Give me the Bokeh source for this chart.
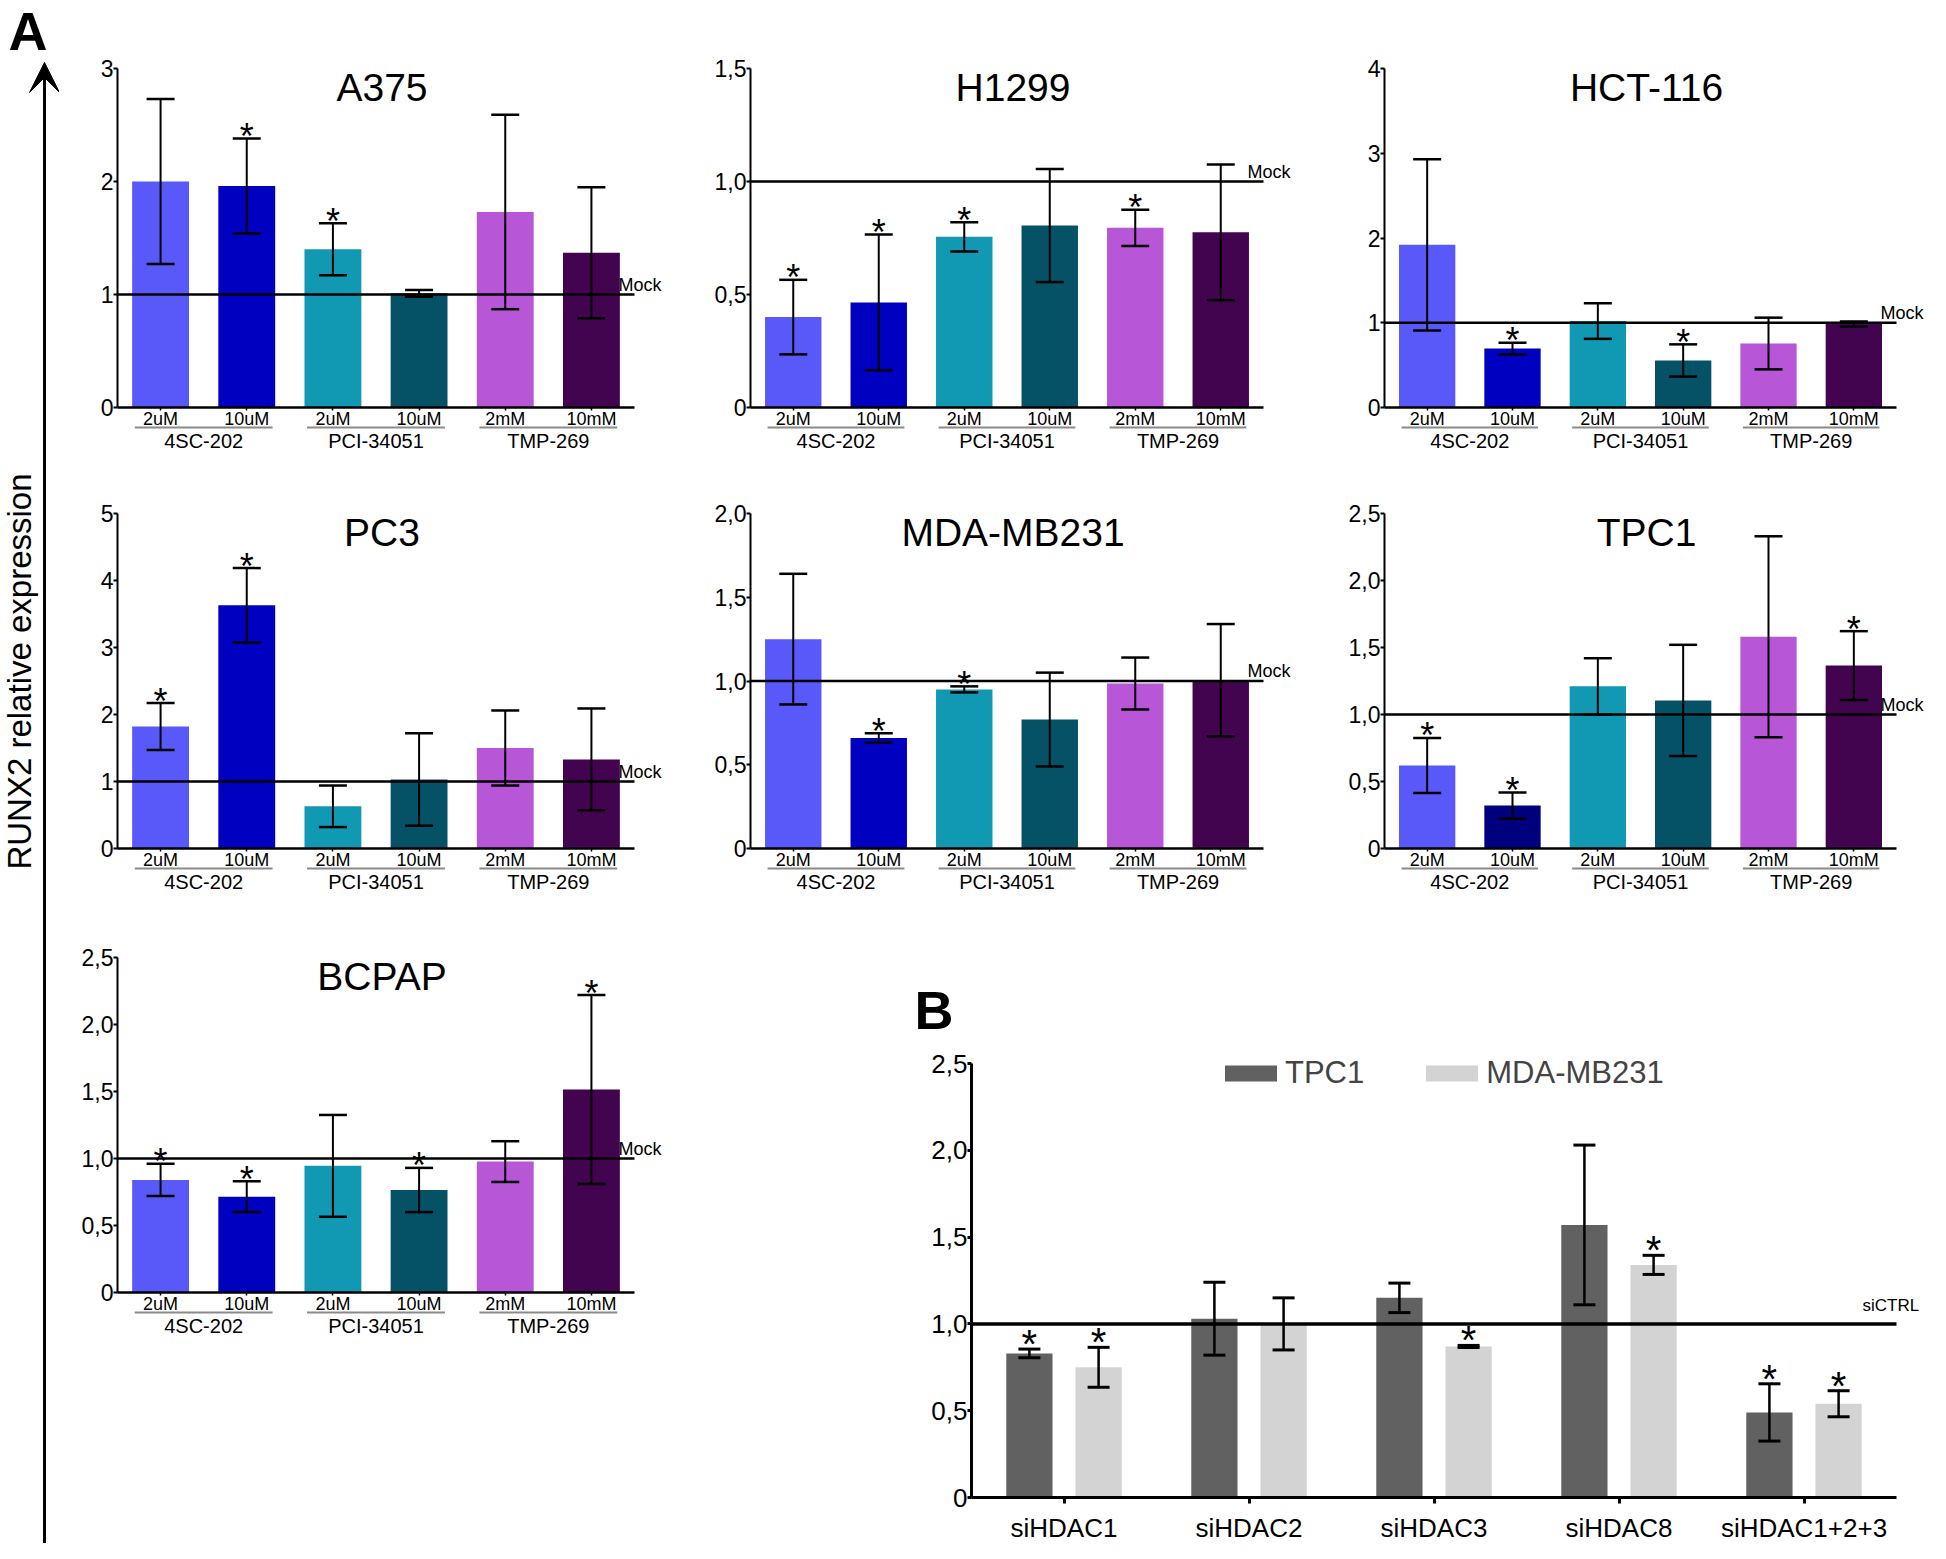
import math
from bokeh.plotting import figure
from bokeh.models import (Range1d, ColumnDataSource, Whisker, TeeHead, Label, LinearAxis,
                          FixedTicker, Legend, LegendItem, VeeHead, Arrow)
from bokeh.layouts import row, column
from bokeh.embed import file_html
from bokeh.resources import INLINE
from bokeh.core.properties import value

FONT = "Liberation Sans"

# ---------------- data ----------------
drugs = ["4SC-202", "4SC-202", "PCI-34051", "PCI-34051", "TMP-269", "TMP-269"]
doses = ["2uM", "10uM", "2uM", "10uM", "2mM", "10mM"]
colors_std = ["#5959F9", "#0000C0", "#1199B4", "#055165", "#B856D8", "#42044F"]
colors_tpc1 = ["#5959F9", "#00007F", "#1199B4", "#055165", "#B856D8", "#42044F"]

a375_mean = [2.00, 1.96, 1.40, 1.01, 1.73, 1.37]
a375_err = [0.73, 0.42, 0.23, 0.03, 0.86, 0.58]
a375_sig = [0, 1, 1, 0, 0, 0]
a375_ticks = [0, 1, 2, 3]
a375_labels = ["0", "1", "2", "3"]

h1299_mean = [0.40, 0.465, 0.755, 0.805, 0.795, 0.775]
h1299_err = [0.165, 0.30, 0.065, 0.25, 0.08, 0.30]
h1299_sig = [1, 1, 1, 0, 1, 0]
h1299_ticks = [0, 0.5, 1.0, 1.5]
h1299_labels = ["0", "0,5", "1,0", "1,5"]

hct116_mean = [1.92, 0.695, 1.02, 0.555, 0.755, 0.985]
hct116_err = [1.01, 0.07, 0.21, 0.19, 0.305, 0.03]
hct116_sig = [0, 1, 0, 1, 0, 0]
hct116_ticks = [0, 1, 2, 3, 4]
hct116_labels = ["0", "1", "2", "3", "4"]

pc3_mean = [1.82, 3.63, 0.63, 1.03, 1.50, 1.33]
pc3_err = [0.35, 0.555, 0.31, 0.69, 0.56, 0.76]
pc3_sig = [1, 1, 0, 0, 0, 0]
pc3_ticks = [0, 1, 2, 3, 4, 5]
pc3_labels = ["0", "1", "2", "3", "4", "5"]

mda_mean = [1.25, 0.66, 0.95, 0.77, 0.985, 1.005]
mda_err = [0.39, 0.028, 0.018, 0.28, 0.155, 0.335]
mda_sig = [0, 1, 1, 0, 0, 0]
mda_ticks = [0, 0.5, 1.0, 1.5, 2.0]
mda_labels = ["0", "0,5", "1,0", "1,5", "2,0"]

tpc1_mean = [0.62, 0.32, 1.21, 1.105, 1.58, 1.365]
tpc1_err = [0.205, 0.098, 0.21, 0.415, 0.75, 0.257]
tpc1_sig = [1, 1, 0, 0, 0, 1]
tpc1_ticks = [0, 0.5, 1.0, 1.5, 2.0, 2.5]
tpc1_labels = ["0", "0,5", "1,0", "1,5", "2,0", "2,5"]

bcpap_mean = [0.84, 0.715, 0.945, 0.765, 0.977, 1.515]
bcpap_err = [0.12, 0.115, 0.38, 0.165, 0.152, 0.705]
bcpap_sig = [1, 1, 0, 1, 0, 1]
bcpap_ticks = [0, 0.5, 1.0, 1.5, 2.0, 2.5]
bcpap_labels = ["0", "0,5", "1,0", "1,5", "2,0", "2,5"]

si_groups = ["siHDAC1", "siHDAC2", "siHDAC3", "siHDAC8", "siHDAC1+2+3"]
b_tpc1_mean = [0.83, 1.03, 1.15, 1.57, 0.49]
b_tpc1_err = [0.025, 0.21, 0.085, 0.46, 0.165]
b_tpc1_sig = [1, 0, 0, 0, 1]
b_mda_mean = [0.75, 1.00, 0.87, 1.34, 0.54]
b_mda_err = [0.115, 0.15, 0.006, 0.055, 0.075]
b_mda_sig = [1, 0, 1, 1, 1]
b_ticks = [0, 0.5, 1.0, 1.5, 2.0, 2.5]
b_labels = ["0", "0,5", "1,0", "1,5", "2,0", "2,5"]

# ---------------- layout constants (px) ----------------
TOTAL_H = 1543
STRIP_W = 59
COL_W = [634, 634, 600]
COL_AXIS_LEFT = [58, 57, 57]      # y-axis position inside each figure
COL_SPAN = [517, 513, 512]        # x-axis length
ROW_H = [455, 446, 642]
ROW_TOP = [68, 58, 56]            # pixel row of the top tick
ROW_ZERO = [407, 393, 391]        # pixel row of y = 0
UNDERLINE_PX = 20


def style_common(p):
    p.outline_line_color = None
    p.grid.visible = False
    p.background_fill_color = "white"
    p.border_fill_color = "white"


def y_range_for(ymax, h, top_px, zero_px):
    upp = ymax / (zero_px - top_px)
    return Range1d(-(h - zero_px) * upp, ymax + top_px * upp), upp


def x_range_for(n, w, axis_left, span):
    upx = n / span
    return Range1d(-axis_left * upx, n + (w - axis_left - span) * upx)


def style_yaxis(ya, ticks, tick_labels, ymax, size, lw):
    ya.fixed_location = 0
    ya.bounds = (0, ymax)
    ya.ticker = FixedTicker(ticks=ticks)
    ya.major_label_overrides = {float(t): l for t, l in zip(ticks, tick_labels)}
    ya.axis_line_width = lw
    ya.axis_line_color = "black"
    ya.major_tick_out = 4
    ya.major_tick_in = 0
    ya.major_tick_line_width = lw
    ya.major_tick_line_color = "black"
    ya.minor_tick_line_color = None
    ya.major_label_standoff = 0
    ya.major_label_text_font = FONT
    ya.major_label_text_font_size = size
    ya.major_label_text_color = "black"


def bar_panel(title, mean, err, sig, ticks, tick_labels, colors, ci, ri):
    w, h = COL_W[ci], ROW_H[ri]
    n = len(doses)
    ymax = ticks[-1]
    yr, upp = y_range_for(ymax, h, ROW_TOP[ri], ROW_ZERO[ri])
    xr = x_range_for(n, w, COL_AXIS_LEFT[ci], COL_SPAN[ci])
    p = figure(width=w, height=h, output_backend="svg", toolbar_location=None,
               x_range=xr, y_range=yr, min_border=0)
    style_common(p)
    xc = [i + 0.5 for i in range(n)]
    lo = [m - e for m, e in zip(mean, err)]
    hi = [m + e for m, e in zip(mean, err)]
    src = ColumnDataSource(dict(x=xc, top=mean, lo=lo, hi=hi, color=colors))
    p.vbar(x="x", top="top", width=0.66, fill_color="color", line_color=None, source=src)
    # Mock reference line
    p.segment(x0=[0], y0=[1], x1=[n], y1=[1], line_color="black", line_width=2.5)
    p.add_layout(Whisker(source=src, base="x", lower="lo", upper="hi", dimension="height",
                         level="overlay", line_width=2, line_color="black",
                         lower_head=TeeHead(size=28, line_width=2.5, line_color="black"),
                         upper_head=TeeHead(size=28, line_width=2.5, line_color="black")))
    sx = [x for x, s in zip(xc, sig) if s]
    sy = [v for v, s in zip(hi, sig) if s]
    p.text(x=sx, y=sy, text=["*"] * len(sx), text_align="center", text_baseline="middle",
           y_offset=-2, text_font=value(FONT), text_font_size=value("36px"),
           text_color="black")
    # drug groups: centres and grey underline
    groups = []
    for d in drugs:
        if d not in groups:
            groups.append(d)
    g_lo = [min(x for x, d in zip(xc, drugs) if d == g) for g in groups]
    g_hi = [max(x for x, d in zip(xc, drugs) if d == g) for g in groups]
    g_center = [(a + b) / 2 for a, b in zip(g_lo, g_hi)]
    yb = -UNDERLINE_PX * upp
    p.segment(x0=[a - 0.3 for a in g_lo], y0=[yb] * len(groups),
              x1=[b + 0.3 for b in g_hi], y1=[yb] * len(groups),
              line_color="#8a8a8a", line_width=2)
    # title and Mock label
    p.add_layout(Label(x=n / 2, y=ymax, x_offset=6, y_offset=3, text=title, text_align="center",
                       text_baseline="top", text_font=FONT, text_font_size="39px",
                       text_color="black"))
    p.add_layout(Label(x=n, y=1, x_offset=-16, y_offset=10, text="Mock", text_align="left",
                       text_baseline="alphabetic", text_font=FONT, text_font_size="18px",
                       text_color="black"))
    # x axis: doses
    xa = p.xaxis[0]
    xa.fixed_location = 0
    xa.bounds = (0, n)
    xa.ticker = FixedTicker(ticks=xc)
    xa.major_label_overrides = {float(x): d for x, d in zip(xc, doses)}
    xa.axis_line_width = 2.5
    xa.axis_line_color = "black"
    xa.major_tick_out = 3
    xa.major_tick_in = 0
    xa.major_tick_line_width = 1.5
    xa.major_tick_line_color = "black"
    xa.minor_tick_line_color = None
    xa.major_label_standoff = -2
    xa.major_label_text_font = FONT
    xa.major_label_text_font_size = "18px"
    xa.major_label_text_color = "black"
    # second x axis: drug names
    xg = LinearAxis(fixed_location=0, ticker=FixedTicker(ticks=g_center),
                    major_label_overrides={float(c): g for c, g in zip(g_center, groups)},
                    axis_line_color=None, major_tick_line_color=None, minor_tick_line_color=None,
                    major_tick_out=0, major_tick_in=0, minor_tick_out=0, minor_tick_in=0,
                    major_label_standoff=22, major_label_text_font=FONT,
                    major_label_text_font_size="20px", major_label_text_color="black")
    p.add_layout(xg, "below")
    style_yaxis(p.yaxis[0], ticks, tick_labels, ymax, "23px", 2)
    return p


p_a375 = bar_panel("A375", a375_mean, a375_err, a375_sig, a375_ticks, a375_labels, colors_std, 0, 0)
p_h1299 = bar_panel("H1299", h1299_mean, h1299_err, h1299_sig, h1299_ticks, h1299_labels, colors_std, 1, 0)
p_hct = bar_panel("HCT-116", hct116_mean, hct116_err, hct116_sig, hct116_ticks, hct116_labels, colors_std, 2, 0)
p_pc3 = bar_panel("PC3", pc3_mean, pc3_err, pc3_sig, pc3_ticks, pc3_labels, colors_std, 0, 1)
p_mda = bar_panel("MDA-MB231", mda_mean, mda_err, mda_sig, mda_ticks, mda_labels, colors_std, 1, 1)
p_tpc1 = bar_panel("TPC1", tpc1_mean, tpc1_err, tpc1_sig, tpc1_ticks, tpc1_labels, colors_tpc1, 2, 1)
p_bcpap = bar_panel("BCPAP", bcpap_mean, bcpap_err, bcpap_sig, bcpap_ticks, bcpap_labels, colors_std, 0, 2)

# ---------------- panel B ----------------
B_W = COL_W[1] + COL_W[2]
B_H = ROW_H[2]
B_AXIS_LEFT = 278
B_SPAN = 925
B_TOP, B_ZERO = 162, 596
nb = len(si_groups)
b_yr, b_upp = y_range_for(b_ticks[-1], B_H, B_TOP, B_ZERO)
pB = figure(width=B_W, height=B_H, output_backend="svg", toolbar_location=None,
            x_range=x_range_for(nb, B_W, B_AXIS_LEFT, B_SPAN), y_range=b_yr, min_border=0)
style_common(pB)
DODGE = 0.187
xc = [i + 0.5 for i in range(nb)]
xt = [c - DODGE for c in xc]
xm = [c + DODGE for c in xc]
src_t = ColumnDataSource(dict(x=xt, top=b_tpc1_mean,
                              lo=[m - e for m, e in zip(b_tpc1_mean, b_tpc1_err)],
                              hi=[m + e for m, e in zip(b_tpc1_mean, b_tpc1_err)]))
src_m = ColumnDataSource(dict(x=xm, top=b_mda_mean,
                              lo=[m - e for m, e in zip(b_mda_mean, b_mda_err)],
                              hi=[m + e for m, e in zip(b_mda_mean, b_mda_err)]))
r_t = pB.vbar(x="x", top="top", width=0.25, fill_color="#616161", line_color=None, source=src_t)
r_m = pB.vbar(x="x", top="top", width=0.25, fill_color="#D3D3D3", line_color=None, source=src_m)
pB.segment(x0=[0], y0=[1], x1=[nb], y1=[1], line_color="black", line_width=3.5)
for s in (src_t, src_m):
    pB.add_layout(Whisker(source=s, base="x", lower="lo", upper="hi", dimension="height",
                          level="overlay", line_width=2.5, line_color="black",
                          lower_head=TeeHead(size=22, line_width=3, line_color="black"),
                          upper_head=TeeHead(size=22, line_width=3, line_color="black")))
for xs, data, sig in ((xt, src_t.data, b_tpc1_sig), (xm, src_m.data, b_mda_sig)):
    sx = [x for x, s in zip(xs, sig) if s]
    sy = [v for v, s in zip(data["hi"], sig) if s]
    pB.text(x=sx, y=sy, text=["*"] * len(sx), text_align="center", text_baseline="middle",
            y_offset=-5, text_font=value(FONT), text_font_size=value("40px"), text_color="black")
pB.add_layout(Label(x=nb, y=1, x_offset=-34, y_offset=18, text="siCTRL", text_align="left",
                    text_baseline="alphabetic", text_font=FONT, text_font_size="17px",
                    text_color="black"))
pB.add_layout(Label(x=0, y=b_ticks[-1], x_offset=-57, y_offset=84, text="B", text_align="left",
                    text_baseline="top", text_font=FONT, text_font_size="54px",
                    text_font_style="bold", text_color="black"))
legend = Legend(items=[LegendItem(label="TPC1", renderers=[r_t]),
                       LegendItem(label="MDA-MB231", renderers=[r_m])],
                orientation="horizontal", location=(525, 452),
                glyph_width=65, glyph_height=20, label_text_font=FONT,
                label_text_font_size="31px", label_standoff=2, spacing=55,
                padding=0, margin=0, border_line_color=None, background_fill_alpha=0)
pB.add_layout(legend)
xa = pB.xaxis[0]
xa.fixed_location = 0
xa.bounds = (0, nb)
xa.ticker = FixedTicker(ticks=xc)
xa.major_label_overrides = {float(c): g for c, g in zip(xc, si_groups)}
xa.axis_line_width = 3
xa.axis_line_color = "black"
xa.major_tick_out = 6
xa.major_tick_in = 0
xa.major_tick_line_width = 3
xa.major_tick_line_color = "black"
xa.minor_tick_line_color = None
xa.major_label_standoff = 9
xa.major_label_text_font = FONT
xa.major_label_text_font_size = "26px"
xa.major_label_text_color = "black"
style_yaxis(pB.yaxis[0], b_ticks, b_labels, b_ticks[-1], "26px", 3)

# ---------------- left strip: "A", arrow, y label ----------------
strip = figure(width=STRIP_W, height=TOTAL_H, output_backend="svg", toolbar_location=None,
               x_range=Range1d(0, STRIP_W), y_range=Range1d(0, TOTAL_H),
               x_axis_location=None, y_axis_location=None, min_border=0)
style_common(strip)
strip.add_layout(Label(x=8, y=TOTAL_H, text="A", text_align="left", text_baseline="top",
                       text_font=FONT, text_font_size="54px", text_font_style="bold",
                       text_color="black"))
strip.add_layout(Arrow(x_start=44, y_start=0, x_end=44, y_end=TOTAL_H - 62, line_width=3,
                       line_color="black",
                       end=VeeHead(size=30, fill_color="black", line_color="black")))
strip.add_layout(Label(x=19, y=TOTAL_H - 671, text="RUNX2 relative expression", angle=math.pi / 2,
                       text_align="center", text_baseline="middle", text_font=FONT,
                       text_font_size="33px", text_color="black"))

layout = row(strip,
             column(row(p_a375, p_h1299, p_hct),
                    row(p_pc3, p_mda, p_tpc1),
                    row(p_bcpap, pB)))

open("out.html", "w").write(file_html(layout, INLINE))
